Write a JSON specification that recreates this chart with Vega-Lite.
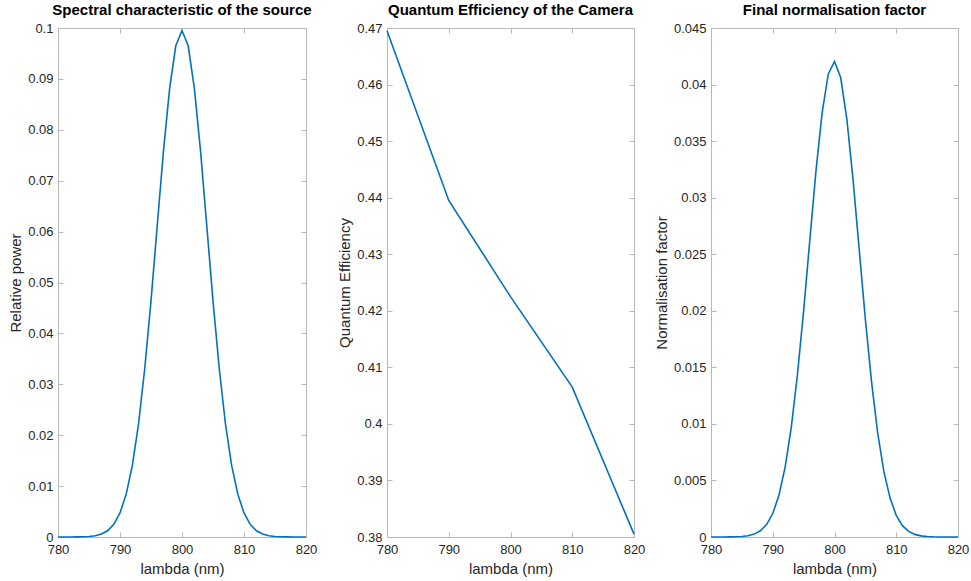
{
  "$schema": "https://vega.github.io/schema/vega-lite/v6.json",
  "background": "white",
  "padding": {"left": 8, "top": 2, "right": 5, "bottom": 2},
  "spacing": 19,
  "datasets": {
    "src": [
      {"lambda": 780, "v": 0.0000005}, {"lambda": 781, "v": 0.0000016}, {"lambda": 782, "v": 0.000005}, {"lambda": 783, "v": 0.0000149},
      {"lambda": 784, "v": 0.0000406}, {"lambda": 785, "v": 0.000104}, {"lambda": 786, "v": 0.000253}, {"lambda": 787, "v": 0.000576},
      {"lambda": 788, "v": 0.00123}, {"lambda": 789, "v": 0.00249}, {"lambda": 790, "v": 0.00472}, {"lambda": 791, "v": 0.00842},
      {"lambda": 792, "v": 0.0141}, {"lambda": 793, "v": 0.0223}, {"lambda": 794, "v": 0.0332}, {"lambda": 795, "v": 0.0464},
      {"lambda": 796, "v": 0.0611}, {"lambda": 797, "v": 0.0757}, {"lambda": 798, "v": 0.0881}, {"lambda": 799, "v": 0.0965},
      {"lambda": 800, "v": 0.0995},
      {"lambda": 801, "v": 0.0965}, {"lambda": 802, "v": 0.0881}, {"lambda": 803, "v": 0.0757}, {"lambda": 804, "v": 0.0611},
      {"lambda": 805, "v": 0.0464}, {"lambda": 806, "v": 0.0332}, {"lambda": 807, "v": 0.0223}, {"lambda": 808, "v": 0.0141},
      {"lambda": 809, "v": 0.00842}, {"lambda": 810, "v": 0.00472}, {"lambda": 811, "v": 0.00249}, {"lambda": 812, "v": 0.00123},
      {"lambda": 813, "v": 0.000576}, {"lambda": 814, "v": 0.000253}, {"lambda": 815, "v": 0.000104}, {"lambda": 816, "v": 0.0000406},
      {"lambda": 817, "v": 0.0000149}, {"lambda": 818, "v": 0.000005}, {"lambda": 819, "v": 0.0000016}, {"lambda": 820, "v": 0.0000005}
    ],
    "qe": [
      {"lambda": 780, "v": 0.4695}, {"lambda": 790, "v": 0.4395}, {"lambda": 800, "v": 0.4225}, {"lambda": 810, "v": 0.4065}, {"lambda": 820, "v": 0.3805}
    ],
    "nf": [
      {"lambda": 780, "v": 0.0000002}, {"lambda": 781, "v": 0.00000075}, {"lambda": 782, "v": 0.0000023}, {"lambda": 783, "v": 0.0000069},
      {"lambda": 784, "v": 0.0000186}, {"lambda": 785, "v": 0.0000473}, {"lambda": 786, "v": 0.000114}, {"lambda": 787, "v": 0.000258},
      {"lambda": 788, "v": 0.000548}, {"lambda": 789, "v": 0.001102}, {"lambda": 790, "v": 0.002074}, {"lambda": 791, "v": 0.003686},
      {"lambda": 792, "v": 0.006149}, {"lambda": 793, "v": 0.009687}, {"lambda": 794, "v": 0.014366}, {"lambda": 795, "v": 0.019998},
      {"lambda": 796, "v": 0.02623}, {"lambda": 797, "v": 0.03237}, {"lambda": 798, "v": 0.03752}, {"lambda": 799, "v": 0.04094},
      {"lambda": 800, "v": 0.04204},
      {"lambda": 801, "v": 0.04062}, {"lambda": 802, "v": 0.03694}, {"lambda": 803, "v": 0.03162}, {"lambda": 804, "v": 0.02542},
      {"lambda": 805, "v": 0.01923}, {"lambda": 806, "v": 0.01371}, {"lambda": 807, "v": 0.009172}, {"lambda": 808, "v": 0.005777},
      {"lambda": 809, "v": 0.003436}, {"lambda": 810, "v": 0.001919}, {"lambda": 811, "v": 0.001006}, {"lambda": 812, "v": 0.000494},
      {"lambda": 813, "v": 0.00023}, {"lambda": 814, "v": 0.0001}, {"lambda": 815, "v": 0.0000409}, {"lambda": 816, "v": 0.0000159},
      {"lambda": 817, "v": 0.0000058}, {"lambda": 818, "v": 0.0000019}, {"lambda": 819, "v": 0.0000006}, {"lambda": 820, "v": 0.0000002}
    ]
  },
  "config": {
    "font": "Liberation Sans",
    "view": {"stroke": "#b8b8b8", "strokeWidth": 1},
    "axis": {
      "grid": false, "domain": false, "tickColor": "#b8b8b8", "tickSize": -5,
      "labelFont": "Liberation Sans", "labelFontSize": 13, "labelColor": "#262626",
      "titleFont": "Liberation Sans", "titleFontSize": 15, "titleFontWeight": "normal", "titleColor": "#262626",
      "labelFlush": false, "labelOverlap": false
    },
    "axisX": {"labelPadding": 11, "titlePadding": 5},
    "axisY": {"labelPadding": 10, "titlePadding": 4},
    "title": {"font": "Liberation Sans", "fontSize": 15, "fontWeight": "bold", "color": "#000000", "offset": 0},
    "line": {"color": "#0072BD", "strokeWidth": 1.6}
  },
  "hconcat": [
    {
      "width": 248, "height": 509,
      "title": "Spectral characteristic of the source",
      "data": {"name": "src"},
      "layer": [
        {
          "mark": {"type": "line"},
          "encoding": {
            "x": {"field": "lambda", "type": "quantitative", "scale": {"domain": [780, 820], "nice": false, "zero": false},
                  "axis": {"values": [780, 790, 800, 810, 820], "format": "d", "title": "lambda (nm)"}},
            "y": {"field": "v", "type": "quantitative", "scale": {"domain": [0, 0.1], "nice": false},
                  "axis": {"values": [0, 0.01, 0.02, 0.03, 0.04, 0.05, 0.06, 0.07, 0.08, 0.09, 0.1], "format": "~g", "title": "Relative power"}}
          }
        },
        {
          "mark": {"type": "line", "opacity": 0},
          "encoding": {
            "x": {"field": "lambda", "type": "quantitative", "scale": {"domain": [780, 820], "nice": false, "zero": false},
                  "axis": {"orient": "top", "labels": false, "title": null, "values": [780, 790, 800, 810, 820]}},
            "y": {"field": "v", "type": "quantitative", "scale": {"domain": [0, 0.1], "nice": false},
                  "axis": {"orient": "right", "labels": false, "title": null, "values": [0, 0.01, 0.02, 0.03, 0.04, 0.05, 0.06, 0.07, 0.08, 0.09, 0.1]}}
          }
        }
      ],
      "resolve": {"axis": {"x": "independent", "y": "independent"}}
    },
    {
      "hconcat": [
        {
          "width": 247, "height": 509,
          "title": "Quantum Efficiency of the Camera",
          "data": {"name": "qe"},
          "layer": [
            {
              "mark": {"type": "line"},
              "encoding": {
                "x": {"field": "lambda", "type": "quantitative", "scale": {"domain": [780, 820], "nice": false, "zero": false},
                      "axis": {"values": [780, 790, 800, 810, 820], "format": "d", "title": "lambda (nm)"}},
                "y": {"field": "v", "type": "quantitative", "scale": {"domain": [0.38, 0.47], "nice": false, "zero": false},
                      "axis": {"values": [0.38, 0.39, 0.4, 0.41, 0.42, 0.43, 0.44, 0.45, 0.46, 0.47], "format": "~g", "title": "Quantum Efficiency"}}
              }
            },
            {
              "mark": {"type": "line", "opacity": 0},
              "encoding": {
                "x": {"field": "lambda", "type": "quantitative", "scale": {"domain": [780, 820], "nice": false, "zero": false},
                      "axis": {"orient": "top", "labels": false, "title": null, "values": [780, 790, 800, 810, 820]}},
                "y": {"field": "v", "type": "quantitative", "scale": {"domain": [0.38, 0.47], "nice": false, "zero": false},
                      "axis": {"orient": "right", "labels": false, "title": null, "values": [0.38, 0.39, 0.4, 0.41, 0.42, 0.43, 0.44, 0.45, 0.46, 0.47]}}
              }
            }
          ],
          "resolve": {"axis": {"x": "independent", "y": "independent"}}
        },
        {
          "width": 247, "height": 509,
          "title": "Final normalisation factor",
          "data": {"name": "nf"},
          "layer": [
            {
              "mark": {"type": "line"},
              "encoding": {
                "x": {"field": "lambda", "type": "quantitative", "scale": {"domain": [780, 820], "nice": false, "zero": false},
                      "axis": {"values": [780, 790, 800, 810, 820], "format": "d", "title": "lambda (nm)"}},
                "y": {"field": "v", "type": "quantitative", "scale": {"domain": [0, 0.045], "nice": false},
                      "axis": {"values": [0, 0.005, 0.01, 0.015, 0.02, 0.025, 0.03, 0.035, 0.04, 0.045], "format": "~g", "title": "Normalisation factor"}}
              }
            },
            {
              "mark": {"type": "line", "opacity": 0},
              "encoding": {
                "x": {"field": "lambda", "type": "quantitative", "scale": {"domain": [780, 820], "nice": false, "zero": false},
                      "axis": {"orient": "top", "labels": false, "title": null, "values": [780, 790, 800, 810, 820]}},
                "y": {"field": "v", "type": "quantitative", "scale": {"domain": [0, 0.045], "nice": false},
                      "axis": {"orient": "right", "labels": false, "title": null, "values": [0, 0.005, 0.01, 0.015, 0.02, 0.025, 0.03, 0.035, 0.04, 0.045]}}
              }
            }
          ],
          "resolve": {"axis": {"x": "independent", "y": "independent"}}
        }
      ],
      "spacing": 7
    }
  ]
}
